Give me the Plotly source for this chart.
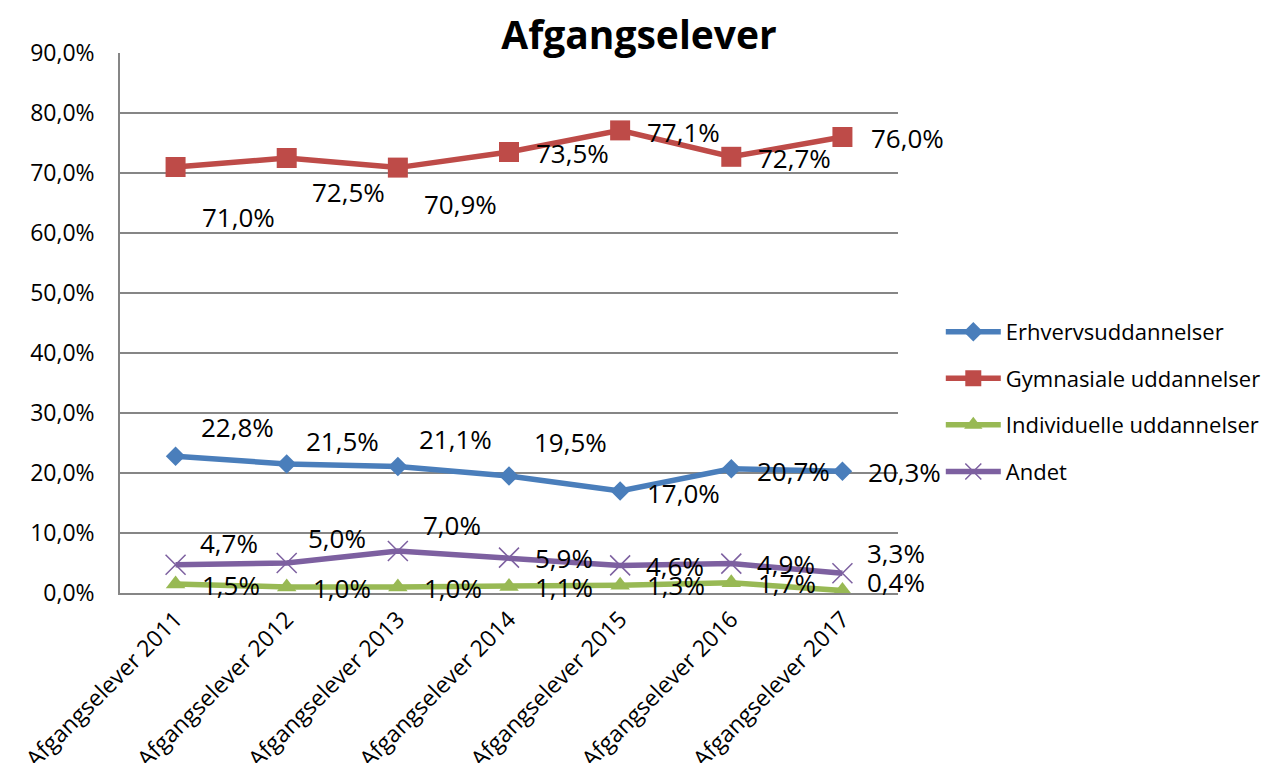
import plotly.graph_objects as go

categories = ["Afgangselever 2011", "Afgangselever 2012", "Afgangselever 2013",
              "Afgangselever 2014", "Afgangselever 2015", "Afgangselever 2016",
              "Afgangselever 2017"]

erhverv = [22.8, 21.5, 21.1, 19.5, 17.0, 20.7, 20.3]
gymnasiale = [71.0, 72.5, 70.9, 73.5, 77.1, 72.7, 76.0]
individuelle = [1.5, 1.0, 1.0, 1.1, 1.3, 1.7, 0.4]
andet = [4.7, 5.0, 7.0, 5.9, 4.6, 4.9, 3.3]

series_names = ["Erhvervsuddannelser", "Gymnasiale uddannelser",
                "Individuelle uddannelser", "Andet"]
y_ticks = [0, 10, 20, 30, 40, 50, 60, 70, 80, 90]

# label offsets (pixels) relative to each point: (dx, dy downward)
off_erhverv = [(62, -29), (56, -23), (58, -27), (61, -34), (63, 2), (62, 2), (62, 1)]
off_gymn = [(63, 50), (62, 34), (63, 36), (63, 1), (63, 2), (63, 1), (65, 1)]
off_indiv = [(55, 1), (55, 1), (55, 1), (55, 1), (56, 0), (56, 0), (54, -9)]
off_andet = [(53, -22), (50, -25), (54, -26), (55, 0), (55, 1), (55, 0), (54, -20)]

colors = ["#4A7EBB", "#BE4B48", "#98B954", "#7D60A0"]
symbols = ["diamond", "square", "triangle-up", "x-thin"]
sizes = [15, 20, 17, 20]
data = [erhverv, gymnasiale, individuelle, andet]
offsets = [off_erhverv, off_gymn, off_indiv, off_andet]

FONT = "Open Sans"

fig = go.Figure()
for i, (name, vals) in enumerate(zip(series_names, data)):
    marker = dict(symbol=symbols[i], size=sizes[i], color=colors[i])
    if symbols[i] == "x-thin":
        marker["line"] = dict(width=1.5, color=colors[i])
    fig.add_trace(go.Scatter(
        x=categories, y=[v / 100 for v in vals], name=name,
        mode="lines+markers", line=dict(color=colors[i], width=5.5),
        marker=marker, legendgroup=name, cliponaxis=False,
    ))
    for j, v in enumerate(vals):
        dx, dy = offsets[i][j]
        fig.add_annotation(
            x=categories[j], y=v / 100, xref="x", yref="y",
            text=f"{v:.1f}%".replace(".", ","), showarrow=False,
            xshift=dx, yshift=-dy, xanchor="center", yanchor="middle",
            font=dict(family=FONT, size=26, color="#000000"),
        )

fig.update_layout(
    width=1276, height=763,
    margin=dict(l=120, r=378, t=53, b=170, autoexpand=False),
    paper_bgcolor="white", plot_bgcolor="white",
    separators=", ",
    title=dict(text="<b>Afgangselever</b>", x=0.5008, xref="container",
               xanchor="center", y=1 - 35 / 763, yref="container", yanchor="middle",
               font=dict(family=FONT, size=39, color="#000000")),
    legend=dict(x=1.055, xanchor="left", y=0.354, yanchor="middle",
                font=dict(family=FONT, size=22, color="#000000"),
                itemwidth=55, tracegroupgap=15, bgcolor="rgba(0,0,0,0)"),
    showlegend=True,
)
fig.update_xaxes(
    type="category", range=[-0.5, 6.5], showgrid=False, automargin=False,
    showline=True, linecolor="#868686", linewidth=1.5,
    tickangle=-45, ticks="", ticklabelstandoff=2,
    tickfont=dict(family=FONT, size=23, color="#000000"),
)
fig.update_yaxes(
    range=[0, 0.9], tickvals=[t / 100 for t in y_ticks], tickformat=".1%",
    showgrid=True, gridcolor="#868686", gridwidth=1.5, automargin=False,
    showline=True, linecolor="#868686", linewidth=1.5,
    zeroline=False, ticks="", ticklabelstandoff=19,
    tickfont=dict(family=FONT, size=23, color="#000000"),
)

fig.write_html("out.html", config={"displayModeBar": False},
               post_script="document.body.style.margin='0px';")
